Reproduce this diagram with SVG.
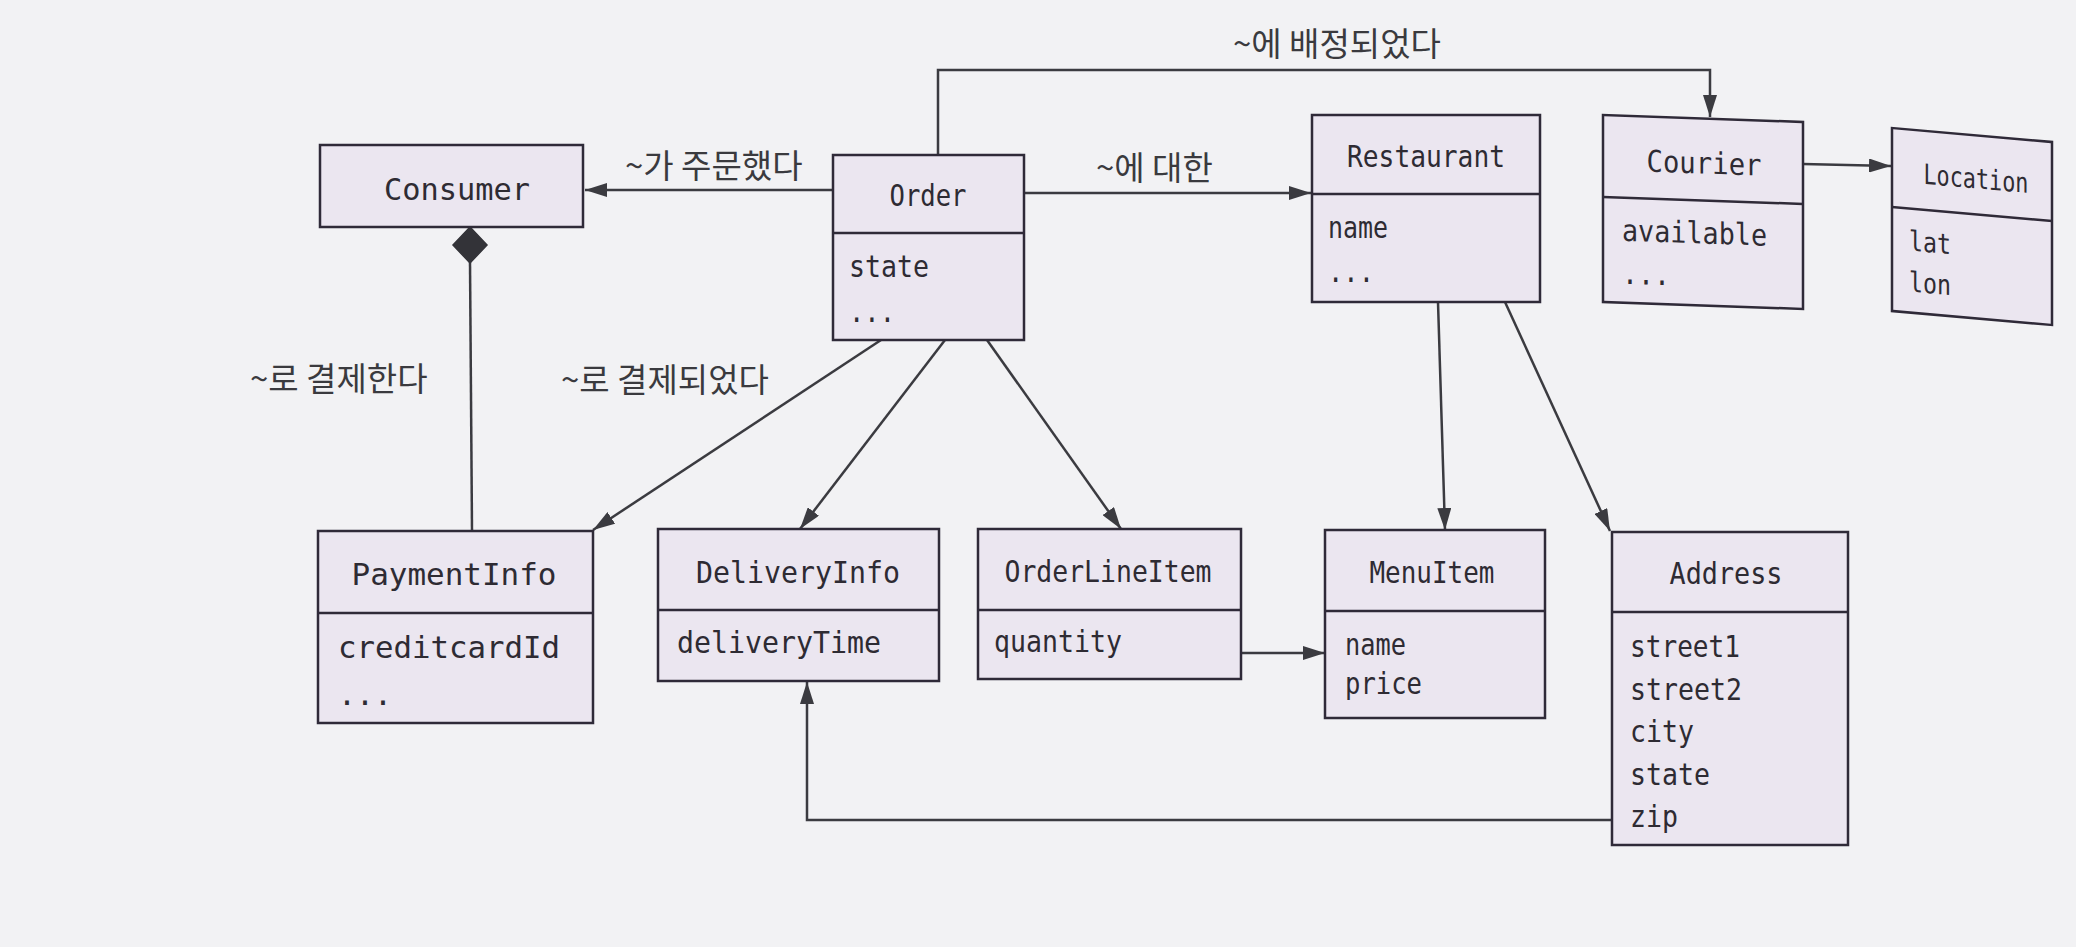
<svg xmlns="http://www.w3.org/2000/svg" width="2076" height="947" viewBox="0 0 2076 947">
<style>
.box{fill:#ebe6f0;stroke:#2f2a38;stroke-width:2.5}
.div{stroke:#2f2a38;stroke-width:2.5;fill:none}
.t{font-family:"DejaVu Sans Mono","Liberation Mono",monospace;font-size:30px;fill:#2e2b33}
.c{text-anchor:middle}
.lbl{font-family:"Noto Sans CJK KR","Noto Sans",sans-serif;font-size:33px;fill:#3a3a3e}
.ln{stroke:#3b3b40;stroke-width:2.5;fill:none}
</style>
<defs>
<marker id="arr" viewBox="0 0 22 14" refX="22" refY="7" markerWidth="22" markerHeight="14" markerUnits="userSpaceOnUse" orient="auto">
<path d="M0,0 L22,7 L0,14 z" fill="#3b3b40"/>
</marker>
</defs>
<rect x="0" y="0" width="2076" height="947" fill="#f2f2f4"/>

<g id="connectors">
<path class="ln" d="M833,190 L585,190" marker-end="url(#arr)"/>
<path class="ln" d="M1024,193 L1311,193" marker-end="url(#arr)"/>
<path class="ln" d="M938,155 L938,70 L1710,70 L1710,117" marker-end="url(#arr)"/>
<path class="ln" d="M1803,164 L1891,166" marker-end="url(#arr)"/>
<path class="ln" d="M881,340 L593,530" marker-end="url(#arr)"/>
<path class="ln" d="M945,340 L800,529" marker-end="url(#arr)"/>
<path class="ln" d="M987,340 L1121,529" marker-end="url(#arr)"/>
<path class="ln" d="M1438,302 L1445,530" marker-end="url(#arr)"/>
<path class="ln" d="M1505,302 L1610,531" marker-end="url(#arr)"/>
<path class="ln" d="M1241,653 L1325,653" marker-end="url(#arr)"/>
<path class="ln" d="M1612,820 L807,820 L807,682" marker-end="url(#arr)"/>
<path class="ln" d="M470,262 L472,531"/>
<polygon points="470,227 487,245 470,263 453,245" fill="#333338" stroke="#333338" stroke-width="1.5"/>
<text class="lbl" x="625" y="178">~가 주문했다</text>
<text class="lbl" x="1096" y="180">~에 대한</text>
<text class="lbl" x="1233" y="56">~에 배정되었다</text>
<text class="lbl" x="250" y="391">~로 결제한다</text>
<text class="lbl" x="561" y="392">~로 결제되었다</text>
</g>

<g id="Consumer">
<rect class="box" x="320" y="145" width="263" height="82"/>
<text class="t c" x="457" y="200" textLength="146" lengthAdjust="spacingAndGlyphs">Consumer</text>
</g>

<g id="Order">
<rect class="box" x="833" y="155" width="191" height="185"/>
<line class="div" x1="833" y1="233" x2="1024" y2="233"/>
<text class="t c" x="928" y="206" textLength="77" lengthAdjust="spacingAndGlyphs">Order</text>
<text class="t" x="849" y="277" textLength="80" lengthAdjust="spacingAndGlyphs">state</text>
<text class="t" x="849" y="322" textLength="46" lengthAdjust="spacingAndGlyphs">...</text>
</g>

<g id="Restaurant">
<rect class="box" x="1312" y="115" width="228" height="187"/>
<line class="div" x1="1312" y1="194" x2="1540" y2="194"/>
<text class="t c" x="1426" y="167" textLength="158" lengthAdjust="spacingAndGlyphs">Restaurant</text>
<text class="t" x="1328" y="238" textLength="60" lengthAdjust="spacingAndGlyphs">name</text>
<text class="t" x="1328" y="282" textLength="46" lengthAdjust="spacingAndGlyphs">...</text>
</g>

<g id="Courier" transform="translate(1603,115) skewY(2)">
<rect class="box" x="0" y="0" width="200" height="187"/>
<line class="div" x1="0" y1="82" x2="200" y2="82"/>
<text class="t c" x="101" y="55" textLength="115" lengthAdjust="spacingAndGlyphs">Courier</text>
<text class="t" x="19" y="125" textLength="145" lengthAdjust="spacingAndGlyphs">available</text>
<text class="t" x="19" y="168" textLength="48" lengthAdjust="spacingAndGlyphs">...</text>
</g>

<g id="Location" transform="translate(1892,128) skewY(5)">
<rect class="box" x="0" y="0" width="160" height="183"/>
<line class="div" x1="0" y1="79" x2="160" y2="79"/>
<text class="t c" x="84" y="53" style="font-size:28px" textLength="105" lengthAdjust="spacingAndGlyphs">Location</text>
<text class="t" x="17" y="121" style="font-size:28px" textLength="42" lengthAdjust="spacingAndGlyphs">lat</text>
<text class="t" x="17" y="162" style="font-size:28px" textLength="42" lengthAdjust="spacingAndGlyphs">lon</text>
</g>

<g id="PaymentInfo">
<rect class="box" x="318" y="531" width="275" height="192"/>
<line class="div" x1="318" y1="613" x2="593" y2="613"/>
<text class="t c" x="454" y="585" textLength="205" lengthAdjust="spacingAndGlyphs">PaymentInfo</text>
<text class="t" x="338" y="658" textLength="222" lengthAdjust="spacingAndGlyphs">creditcardId</text>
<text class="t" x="338" y="705" textLength="54" lengthAdjust="spacingAndGlyphs">...</text>
</g>

<g id="DeliveryInfo">
<rect class="box" x="658" y="529" width="281" height="152"/>
<line class="div" x1="658" y1="610" x2="939" y2="610"/>
<text class="t c" x="798" y="583" textLength="204" lengthAdjust="spacingAndGlyphs">DeliveryInfo</text>
<text class="t" x="677" y="653" textLength="204" lengthAdjust="spacingAndGlyphs">deliveryTime</text>
</g>

<g id="OrderLineItem">
<rect class="box" x="978" y="529" width="263" height="150"/>
<line class="div" x1="978" y1="610" x2="1241" y2="610"/>
<text class="t c" x="1108" y="582" textLength="207" lengthAdjust="spacingAndGlyphs">OrderLineItem</text>
<text class="t" x="994" y="652" textLength="128" lengthAdjust="spacingAndGlyphs">quantity</text>
</g>

<g id="MenuItem">
<rect class="box" x="1325" y="530" width="220" height="188"/>
<line class="div" x1="1325" y1="611" x2="1545" y2="611"/>
<text class="t c" x="1432" y="583" textLength="125" lengthAdjust="spacingAndGlyphs">MenuItem</text>
<text class="t" x="1345" y="655" textLength="61" lengthAdjust="spacingAndGlyphs">name</text>
<text class="t" x="1345" y="694" textLength="77" lengthAdjust="spacingAndGlyphs">price</text>
</g>

<g id="Address">
<rect class="box" x="1612" y="532" width="236" height="313"/>
<line class="div" x1="1612" y1="612" x2="1848" y2="612"/>
<text class="t c" x="1726" y="584" textLength="113" lengthAdjust="spacingAndGlyphs">Address</text>
<text class="t" x="1630" y="657" textLength="110" lengthAdjust="spacingAndGlyphs">street1</text>
<text class="t" x="1630" y="700" textLength="112" lengthAdjust="spacingAndGlyphs">street2</text>
<text class="t" x="1630" y="742" textLength="64" lengthAdjust="spacingAndGlyphs">city</text>
<text class="t" x="1630" y="785" textLength="80" lengthAdjust="spacingAndGlyphs">state</text>
<text class="t" x="1630" y="827" textLength="48" lengthAdjust="spacingAndGlyphs">zip</text>
</g>
</svg>
